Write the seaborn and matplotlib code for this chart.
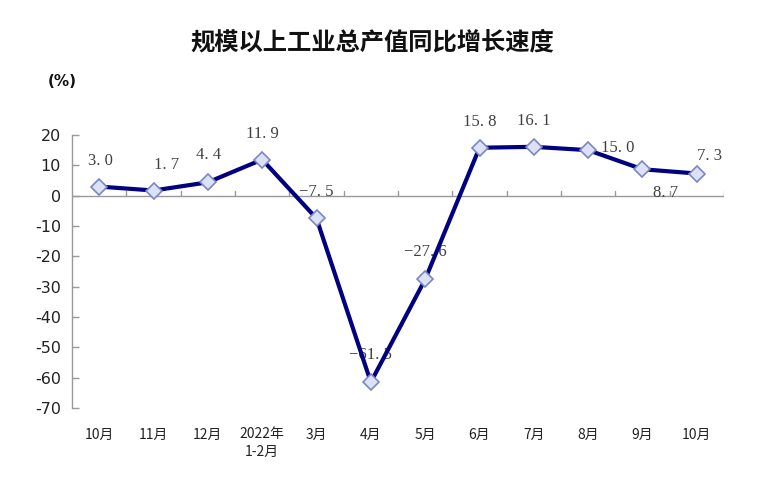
import matplotlib
matplotlib.use("Agg")
import matplotlib.pyplot as plt
import seaborn as sns
import pandas as pd

categories = ["10月", "11月", "12月", "2022年\n1-2月", "3月", "4月", "5月", "6月", "7月", "8月", "9月", "10月"]
values = [3.0, 1.7, 4.4, 11.9, -7.5, -61.5, -27.6, 15.8, 16.1, 15.0, 8.7, 7.3]
yticks = [20, 10, 0, -10, -20, -30, -40, -50, -60, -70]

# label offsets in pixels (dx, dy) relative to each point
label_offsets = [(1, 26), (13, 26), (1, 27), (0, 26), (0, 26), (0, 27), (0, 27), (0, 26), (0, 26), (30, 2), (23, -24), (13, 18)]

sns.set_theme(style="white")
plt.rcParams['font.family'] = ['Noto Sans CJK SC', 'DejaVu Sans']

df = pd.DataFrame({"x": range(len(values)), "v": values})

fig = plt.figure(figsize=(7.59, 4.87), dpi=100)
ax = fig.add_axes([72/759, 1-408/487, (724-72)/759, (408-135)/487])

sns.lineplot(data=df, x="x", y="v", ax=ax, color="#000080", linewidth=3,
             marker="D", markersize=8, markerfacecolor="#DCE2F6",
             markeredgecolor="#7C86C4", markeredgewidth=1.2, zorder=3)

ax.set_xlim(-0.5, len(values) - 0.5)
ax.set_ylim(-70, 20)
ax.set_yticks(yticks)
ax.set_yticklabels([str(t) for t in yticks], fontsize=11.5, color="#222222",
                   family=['DejaVu Sans'])
ax.set_xticks(range(len(categories)))
ax.set_xticklabels(categories, fontsize=10, color="#222222", linespacing=1.3)
ax.tick_params(axis='x', length=0, pad=14)
ax.tick_params(axis='y', direction='in', length=5, color="#999999", width=1, pad=8, left=True)
ax.set_xlabel("")
ax.set_ylabel("")

for s in ["top", "right", "bottom"]:
    ax.spines[s].set_visible(False)
ax.spines["left"].set_color("#999999")
ax.spines["left"].set_linewidth(1)

# x axis at zero with upward ticks at category boundaries
ax.axhline(0, color="#999999", linewidth=1, zorder=1)
for b in range(1, len(values) + 1):
    ax.plot([b - 0.5, b - 0.5], [0, 1.6], color="#999999", linewidth=1, zorder=1)

for i, (v, (dx, dy)) in enumerate(zip(values, label_offsets)):
    txt = f"{v:.1f}".replace(".", ". ").replace("-", "\u2212")
    ax.annotate(txt, (i, v), xytext=(dx, dy), textcoords="offset pixels",
                ha="center", va="center", fontsize=12, color="#404040",
                family=['Liberation Serif', 'DejaVu Serif'], zorder=2)

fig.text(372/759, 1-42/487, "规模以上工业总产值同比增长速度", ha="center", va="center",
         fontsize=17.5, fontweight="bold", color="#111111")
fig.text(62/759, 1-82/487, "(%)", ha="center", va="center", fontsize=11,
         fontweight="bold", color="#111111", family=['DejaVu Sans'])

fig.savefig("out.png", dpi=100, facecolor="white")
